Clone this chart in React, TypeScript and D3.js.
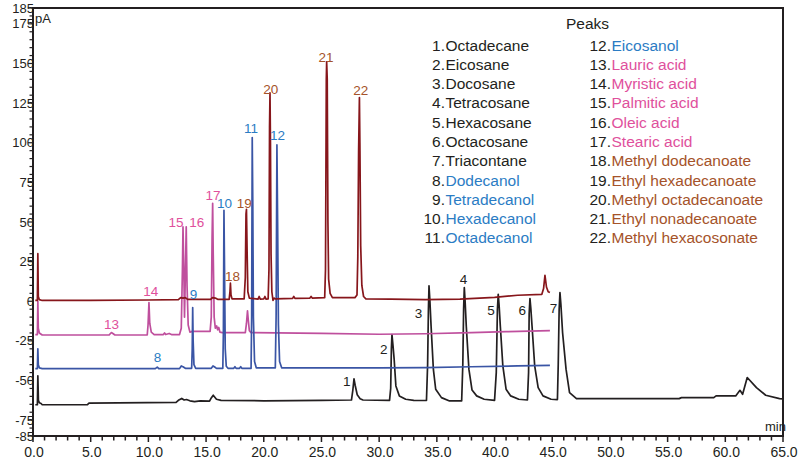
import * as d3 from 'd3';

type Pt = [number, number];

// x: retention time (min), y: signal (pA)
const blackTrace: Pt[] = [
	[0.2, -65.3], [0.38, -65.3], [0.42, -47], [0.47, -62.5], [0.55, -64], [0.7, -64.5], [0.8, -65.3],
	[4.7, -65.3], [4.85, -64.3], [12.4, -63.8], [12.6, -62.5], [12.89, -61.3], [13.1, -62.3], [13.3, -62], [13.6, -62.8],
	[14.0, -63.3], [14.5, -62.8], [15.3, -63], [15.45, -61], [15.62, -59.3], [15.9, -61.8], [16.3, -62.5],
	[20, -62.8], [25, -62.5], [27.6, -62.3], [27.72, -56], [27.82, -49], [27.92, -53], [28.1, -59], [28.35, -61.5], [28.6, -62.3],
	[30.9, -62.5], [31.0, -55], [31.06, -30], [31.11, -21], [31.2, -28], [31.3, -36.6], [31.45, -53.4], [31.75, -59.7], [32.3, -61.8], [33, -62.5],
	[34.1, -62.6], [34.2, -40], [34.27, -5], [34.32, 9.7], [34.4, 0], [34.5, -15.6], [34.7, -43], [34.9, -55.5], [35.4, -60.8], [36.1, -62.9],
	[37.15, -62.9], [37.25, -40], [37.32, -5], [37.38, 8.6], [37.45, 0], [37.55, -15.6], [37.78, -43], [38.05, -56], [38.45, -59.7], [39.1, -61.8], [40.0, -62.5],
	[40.15, -45], [40.25, -5], [40.32, 4.4], [40.4, -3], [40.5, -15.6], [40.72, -40.8], [41.0, -55.5], [41.4, -59.7], [42.1, -61.8], [42.85, -62.3],
	[42.95, -45], [43.0, -8], [43.07, 1.7], [43.15, -5], [43.25, -15.6], [43.48, -40.8], [43.78, -54.5], [44.2, -59.7], [44.9, -61.8], [45.45, -62],
	[45.52, -40], [45.6, -5], [45.67, 5.5], [45.75, -2], [45.9, -20], [46.2, -43], [46.5, -57.6], [47.1, -61.4],
	[56, -61.4], [56.2, -60.8], [59, -60.8], [59.2, -59.7], [60.9, -59.7], [61.27, -56.2], [61.5, -58.7], [61.9, -48.1],
	[62.7, -54.5], [63.5, -59.3], [64.7, -61.4], [65, -61.6],
];

const blueTrace: Pt[] = [
	[0.2, -42.5], [0.38, -42.5], [0.42, -30], [0.46, -40], [0.55, -42], [0.8, -42.5],
	[10.6, -42.5], [10.77, -41.5], [10.9, -42.5],
	[12.7, -42.5], [12.85, -40.8], [13.0, -41.3], [13.2, -42.3],
	[13.75, -42.3], [13.8, -30], [13.84, -4], [13.88, -25], [13.95, -40], [14.1, -42.3],
	[15.45, -42.3], [15.6, -40.8], [15.75, -41.5], [15.9, -42.3],
	[16.45, -42.3], [16.5, -20], [16.55, 57.4], [16.6, 20], [16.66, -30], [16.75, -41], [16.9, -42.3],
	[17.4, -42.3], [17.5, -41.3], [17.6, -42.3], [17.9, -42.3], [18.0, -41.3], [18.1, -42.3],
	[18.9, -42.3], [18.95, -10], [19.0, 103.3], [19.05, 60], [19.1, -10], [19.2, -38], [19.35, -42],
	[21.0, -42], [21.07, -10], [21.14, 98.6], [21.2, 50], [21.27, -15], [21.37, -38], [21.55, -42],
	[26, -42], [30, -42], [34, -41.9], [38, -41.3], [42, -40.8], [44.8, -40.5],
];

const magentaTrace: Pt[] = [
	[0.2, -21], [0.38, -21], [0.42, 0], [0.46, -17], [0.55, -20], [0.8, -21.3],
	[6.6, -21.3], [6.75, -20], [6.82, -19.8], [6.95, -20.5], [7.1, -21.3],
	[9.9, -21.3], [9.97, -15], [10.05, -0.8], [10.12, -14], [10.25, -19.5], [10.5, -21], [11.3, -21], [11.4, -20], [11.5, -21], [11.8, -20.3], [12.0, -21],
	[12.7, -21], [12.85, -17], [12.95, 20], [13.0, 47], [13.07, 20], [13.13, -10], [13.2, 15], [13.28, 47], [13.35, 10], [13.45, -15], [13.6, -19.5], [13.8, -19], [14.2, -19],
	[15.35, -19], [15.45, -10], [15.52, 40], [15.57, 61.8], [15.62, 30], [15.7, -10], [15.8, -17], [15.92, -15.6], [16.0, -18], [16.1, -16.5], [16.2, -19.5],
	[16.4, -19.8], [18.4, -19.8], [18.5, -14], [18.59, -6], [18.66, -12], [18.75, -18.5], [18.9, -19.8],
	[25, -20.3], [30, -20.8], [34, -20.5], [38, -19.8], [41, -19.2], [44.8, -18.5],
];

const redTrace: Pt[] = [
	[0.2, 0.5], [0.38, 0.5], [0.42, 30], [0.46, 3], [0.55, 1], [0.8, 0.5],
	[5, 0.6], [10, 0.8], [12.6, 1], [12.8, 2.3], [13.0, 2], [13.2, 2.3], [13.4, 1.2], [15.4, 1.2], [15.55, 2.3], [15.8, 2], [16.0, 1.2],
	[17.0, 1.2], [17.07, 6], [17.11, 11.4], [17.16, 4], [17.25, 1.5],
	[18.3, 1.5], [18.4, 15], [18.46, 55], [18.5, 58], [18.56, 30], [18.62, 6], [18.75, 2],
	[19.5, 1.3], [19.6, 3], [19.7, 1.3], [20.0, 1.5], [20.1, 3], [20.2, 1.3],
	[20.38, 1.5], [20.45, 20], [20.5, 110], [20.54, 131.5], [20.58, 100], [20.63, 30], [20.7, 6], [20.8, 0.5], [20.9, 2], [21.0, 1.5],
	[22.5, 1.8], [22.6, 3], [22.7, 1.8], [24.0, 2], [24.1, 3], [24.2, 2],
	[25.28, 2.3], [25.35, 20], [25.38, 70], [25.42, 140], [25.45, 151], [25.5, 140], [25.56, 50], [25.62, 14], [25.75, 5], [25.95, 2.3],
	[27.9, 2.3], [28.08, 4], [28.15, 28], [28.22, 95], [28.29, 128.5], [28.33, 100], [28.4, 35], [28.5, 10], [28.65, 3], [28.85, 1.5],
	[31, 1.3], [34, 1.0], [37, 1.3], [40, 2.5], [42, 3.8], [44.1, 4.4], [44.25, 8], [44.37, 16.4], [44.5, 9], [44.65, 6], [44.8, 5.5],
];

// peak number labels: [label, time, signal] of label centre
const peakLabels: [string, number, number][] = [
	['1', 27.2, -50.5], ['2', 30.4, -30], ['3', 33.4, -7.5], ['4', 37.3, 14], ['5', 39.7, -5.5], ['6', 42.4, -5.5], ['7', 45.1, -4.5],
	['8', 10.8, -35.5], ['9', 13.9, 4.5], ['10', 16.6, 61.5], ['11', 18.9, 109], ['12', 21.2, 104.5],
	['13', 6.8, -14.5], ['14', 10.2, 6], ['15', 12.4, 50], ['16', 14.2, 50], ['17', 15.6, 67],
	['18', 17.3, 15.5], ['19', 18.3, 61.5], ['20', 20.6, 134], ['21', 25.4, 154], ['22', 28.4, 133],
];

const peakNames = [
	'Octadecane', 'Eicosane', 'Docosane', 'Tetracosane', 'Hexacosane', 'Octacosane', 'Triacontane',
	'Dodecanol', 'Tetradecanol', 'Hexadecanol', 'Octadecanol', 'Eicosanol',
	'Lauric acid', 'Myristic acid', 'Palmitic acid', 'Oleic acid', 'Stearic acid',
	'Methyl dodecanoate', 'Ethyl hexadecanoate', 'Methyl octadecanoate', 'Ethyl nonadecanoate', 'Methyl hexacosonate',
];
const peakGroups = [1, 1, 1, 1, 1, 1, 1, 2, 2, 2, 2, 2, 3, 3, 3, 3, 3, 4, 4, 4, 4, 4];

const yTickLabels = [185, 175, 150, 125, 100, 75, 50, 25, 0, -25, -50, -75, -85];
const xTickLabels = [0, 5, 10, 15, 20, 25, 30, 35, 40, 45, 50, 55, 60, 65];

const ink = '#231f20';
const traceColors: Record<string, string> = { black: '#231f20', blue: '#3a55a5', magenta: '#bf4f9d', red: '#87161b' };
const groupColors = ['', ink, '#2b7cc4', '#e0509c', '#a5532a'];

const W = 799, H = 461;
const font = '"Liberation Sans", Arial, Helvetica, sans-serif';

export default function App() {
	const x = d3.scaleLinear().domain([0, 65]).range([33, 783]);
	const y = d3.scaleLinear().domain([-85, 185]).range([436, 8]);

	const line = d3.line<Pt>().x(d => x(d[0])).y(d => y(d[1]));

	const traces: [string, Pt[]][] = [
		['black', blackTrace], ['magenta', magentaTrace], ['blue', blueTrace], ['red', redTrace],
	];

	const yMinor = d3.range(-85, 186, 5);
	const xMinor = d3.range(0, 66, 1);

	return (
		<svg width={W} height={H} style={{ position: 'absolute', left: 0, top: 0, display: 'block' }} fontFamily={font}>
			<rect width={W} height={H} fill='#fff' />

			{/* y labels drawn first so the axis line sits on top, as in the source */}
			{yTickLabels.map(v => (
				<text key={v} x={34} y={y(v)} dy='0.35em' textAnchor='end' fontSize={13} fill={ink}>{v}</text>
			))}

			{traces.map(([k, pts]) => (
				<path key={k} d={line(pts) || ''} fill='none' stroke={traceColors[k]} strokeWidth={1.7} strokeLinejoin='round' />
			))}

			{/* frame */}
			<rect x={x(0)} y={y(185)} width={x(65) - x(0)} height={y(-85) - y(185)} fill='none' stroke={ink} strokeWidth={2} />

			{yMinor.map(v => (
				<line key={v} x1={x(0) - (yTickLabels.includes(v) ? 5 : 3.5)} x2={x(0)} y1={y(v)} y2={y(v)} stroke={ink} strokeWidth={1.2} />
			))}
			{xMinor.map(t => (
				<line key={t} x1={x(t)} x2={x(t)} y1={y(-85)} y2={y(-85) + (t % 5 === 0 ? 6 : 4.5)} stroke={ink} strokeWidth={1.5} />
			))}
			{xTickLabels.map(t => (
				<text key={t} x={x(t) + 1} y={452} dy='0.35em' textAnchor='middle' fontSize={14} fill={ink}>{t.toFixed(1)}</text>
			))}

			<text x={35} y={23} fontSize={13} fill={ink}>pA</text>
			<text x={765} y={431} fontSize={13} fill={ink}>min</text>

			{peakLabels.map(([s, t, v]) => {
				const n = +s;
				return (
					<text key={s} x={x(t)} y={y(v)} dy='0.35em' textAnchor='middle' fontSize={13.5} fill={groupColors[peakGroups[n - 1]]}>{s}</text>
				);
			})}

			<text x={566} y={28.5} fontSize={15.5} fill={ink}>Peaks</text>
			{peakNames.map((name, i) => {
				const col = i < 11 ? 0 : 1;
				const row = i < 11 ? i : i - 11;
				const xDot = col === 0 ? 445 : 611;
				const yb = 50.7 + row * 19.26;
				return (
					<g key={name}>
						<text x={xDot} y={yb} textAnchor='end' fontSize={15.5} fill={ink}>{`${i + 1}.`}</text>
						<text x={xDot + 0.5} y={yb} fontSize={15.5} fill={groupColors[peakGroups[i]]}>{name}</text>
					</g>
				);
			})}
		</svg>
	);
}
